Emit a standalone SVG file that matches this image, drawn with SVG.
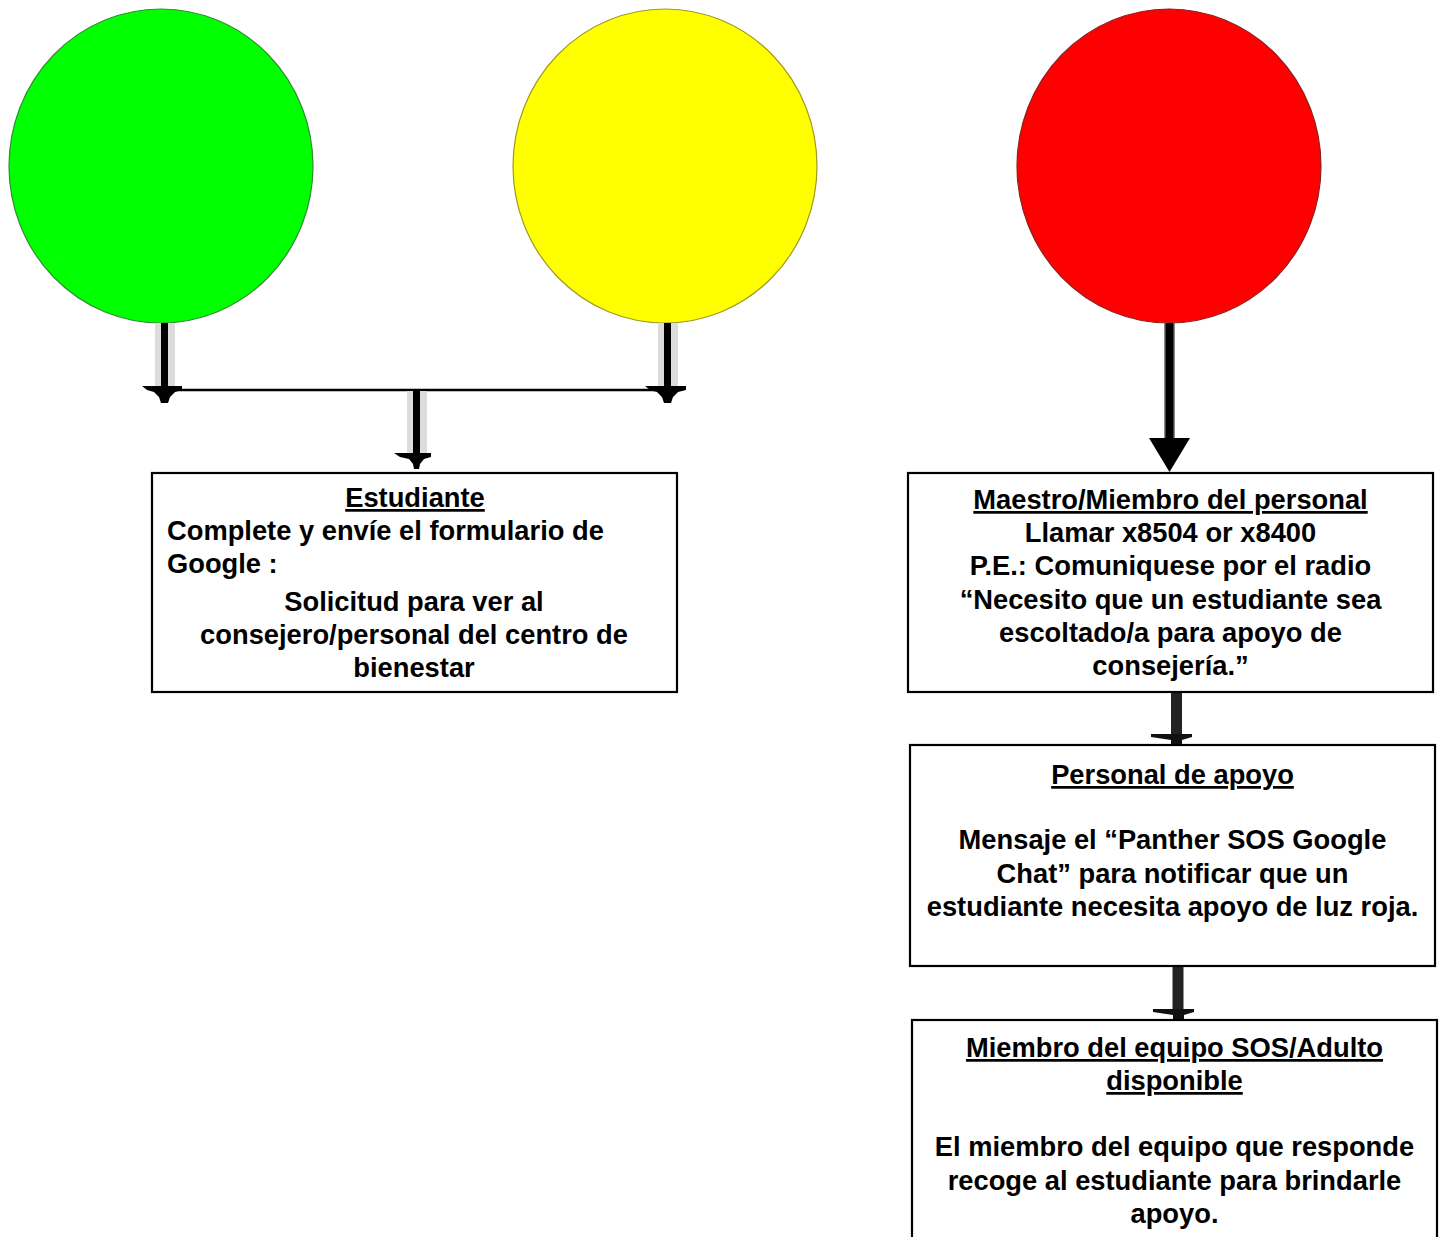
<svg xmlns="http://www.w3.org/2000/svg" width="1440" height="1237" viewBox="0 0 1440 1237">
<style>
  text { font-family: "Liberation Sans", Arial, sans-serif; font-weight: bold; font-size: 27.3px; fill: #000; }
  .c { text-anchor: middle; }
  .u { text-decoration: underline; }
  .box { fill: #fff; stroke: #000; stroke-width: 2.2; }
  .shadow { fill: #dcdcdc; }
  .shaft { stroke: #000; stroke-width: 7; }
  .dshaft { stroke: #222; stroke-width: 11; }
</style>
<rect width="1440" height="1237" fill="#fff"/>

<g id="green-light">
  <ellipse cx="161" cy="166" rx="152" ry="157" fill="#00ff00" stroke="#2f8f2f" stroke-width="1.2"/>
</g>
<g id="yellow-light">
  <ellipse cx="665" cy="166" rx="152" ry="157" fill="#ffff00" stroke="#a09a20" stroke-width="1.2"/>
</g>
<g id="red-light">
  <ellipse cx="1169" cy="166" rx="152" ry="157" fill="#ff0000" stroke="#8f2020" stroke-width="1.2"/>
</g>

<g id="connectors">
  <!-- green down -->
  <rect class="shadow" x="155" y="323" width="20" height="70"/>
  <line class="shaft" x1="164.5" y1="323" x2="164.5" y2="390"/>
  <polygon points="142,386 182,386 182,390 175,392 170,397 168,403 161,403 159,397 154,392 147,390" fill="#000"/>
  <!-- yellow down -->
  <rect class="shadow" x="658" y="323" width="20" height="70"/>
  <line class="shaft" x1="667.5" y1="323" x2="667.5" y2="390"/>
  <polygon points="645,386 686,386 686,390 678,392 673,397 671,403 664,403 662,397 657,392 650,390" fill="#000"/>
  <!-- horizontal join -->
  <line x1="164" y1="390" x2="666" y2="390" stroke="#000" stroke-width="2.5"/>
  <!-- middle down to Estudiante -->
  <rect class="shadow" x="407" y="391" width="20" height="66"/>
  <line class="shaft" x1="416.5" y1="391" x2="416.5" y2="456"/>
  <polygon points="394,453 431,453 431,457 424,459 420,464 419,469 414,469 413,464 409,459 400,457" fill="#000"/>
  <!-- red down -->
  <line x1="1169.5" y1="323" x2="1169.5" y2="442" stroke="#888" stroke-width="11"/>
  <line x1="1169.5" y1="323" x2="1169.5" y2="442" stroke="#000" stroke-width="8"/>
  <polygon points="1149,438 1190,438 1169.5,472" fill="#000"/>
  <!-- box2 to box3 -->
  <line class="dshaft" x1="1176.5" y1="693" x2="1176.5" y2="737"/>
  <polygon points="1151,734 1192,734 1192,737 1182,740 1182,744 1171,744 1171,740 1151,737" fill="#111"/>
  <!-- box3 to box4 -->
  <line class="dshaft" x1="1178" y1="967" x2="1178" y2="1012"/>
  <polygon points="1153,1009 1194,1009 1194,1012 1184,1015 1184,1019 1173,1019 1173,1015 1153,1012" fill="#111"/>
</g>

<g id="estudiante">
  <rect class="box" x="152" y="473" width="525" height="219"/>
  <text class="c u" x="415" y="507">Estudiante</text>
  <text x="167" y="540">Complete y envíe el formulario de</text>
  <text x="167" y="573">Google :</text>
  <text class="c" x="414" y="611">Solicitud para ver al</text>
  <text class="c" x="414" y="644">consejero/personal del centro de</text>
  <text class="c" x="414" y="677">bienestar</text>
</g>

<g id="maestro">
  <rect class="box" x="908" y="473" width="525" height="219"/>
  <text class="c u" x="1170.5" y="509">Maestro/Miembro del personal</text>
  <text class="c" x="1170.5" y="542">Llamar x8504 or x8400</text>
  <text class="c" x="1170.5" y="575">P.E.: Comuniquese por el radio</text>
  <text class="c" x="1170.5" y="609">“Necesito que un estudiante sea</text>
  <text class="c" x="1170.5" y="642">escoltado/a para apoyo de</text>
  <text class="c" x="1170.5" y="675">consejería.”</text>
</g>

<g id="personal-apoyo">
  <rect class="box" x="910" y="745" width="525" height="221"/>
  <text class="c u" x="1172.5" y="784">Personal de apoyo</text>
  <text class="c" x="1172.5" y="849">Mensaje el “Panther SOS Google</text>
  <text class="c" x="1172.5" y="883">Chat” para notificar que un</text>
  <text class="c" x="1172.5" y="916">estudiante necesita apoyo de luz roja.</text>
</g>

<g id="equipo-sos">
  <rect class="box" x="912" y="1020" width="525" height="240"/>
  <text class="c u" x="1174.5" y="1057">Miembro del equipo SOS/Adulto</text>
  <text class="c u" x="1174.5" y="1090">disponible</text>
  <text class="c" x="1174.5" y="1156">El miembro del equipo que responde</text>
  <text class="c" x="1174.5" y="1190">recoge al estudiante para brindarle</text>
  <text class="c" x="1174.5" y="1223">apoyo.</text>
</g>
</svg>
